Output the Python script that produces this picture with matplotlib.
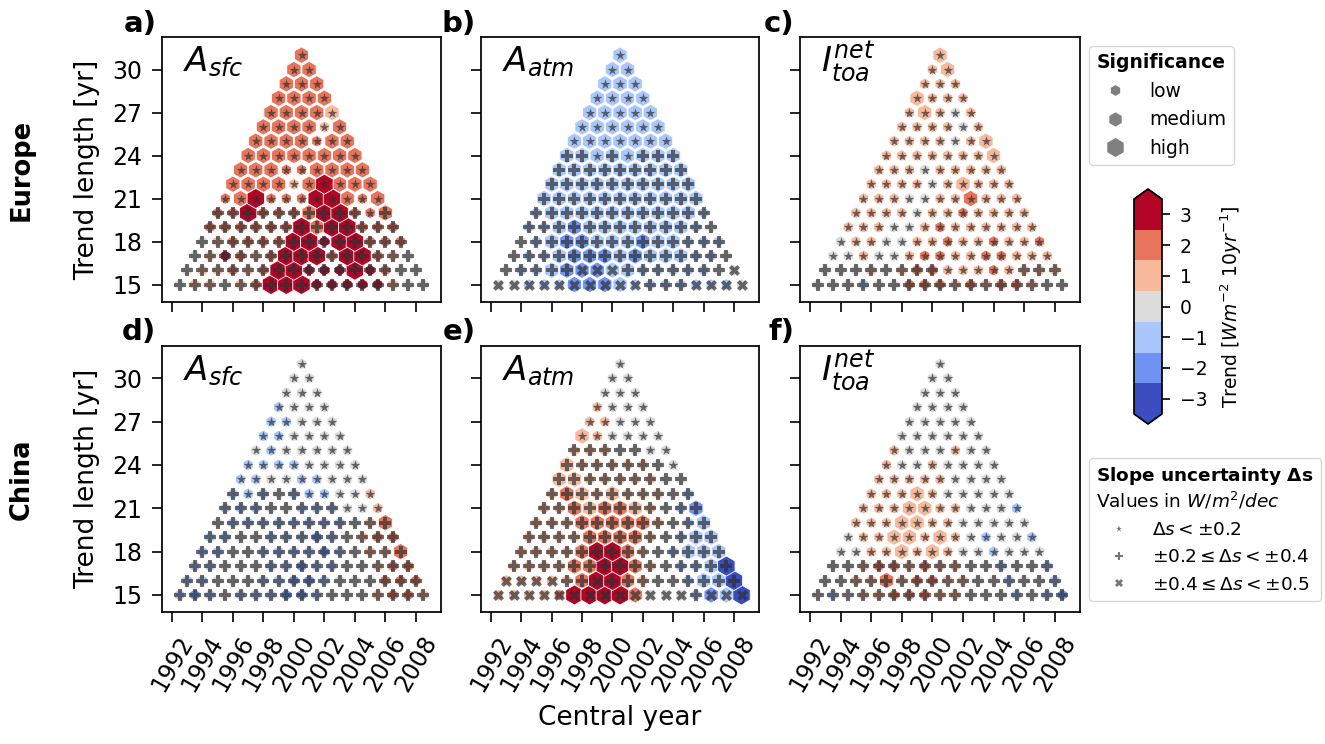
import numpy as np
import matplotlib
matplotlib.use("Agg")
import matplotlib.pyplot as plt
from matplotlib.colors import ListedColormap, BoundaryNorm
from matplotlib.cm import ScalarMappable
from matplotlib.lines import Line2D

plt.rcParams['font.family'] = ['DejaVu Sans']
plt.rcParams['mathtext.fontset'] = 'dejavusans'

# ---------------------------------------------------------------- data
START_YEAR = 1985
trend_lengths = list(range(15, 32))          # rows, bottom (15 yr) to top (31 yr)
year_ticks = list(range(1992, 2009, 2))
length_ticks = list(range(15, 31, 3))
trend_ticks = list(range(-3, 4))

# trend class per point: c=-3, b=-2, a=-1, 0, 1, 2, 3   (rows from 15 yr to 31 yr)
# significance: l=low, m=medium, h=high
# slope uncertainty: s=star (<0.2), +=plus (0.2-0.4), x=cross (0.4-0.5)

eu_asfc_trend = ["01101233333333100", "0112123333333200", "013212333233210", "01222233333222",
                 "2222223233222", "223222233222", "22322233222", "2222123222", "222222222",
                 "22222222", "2222222", "222212", "22221", "2222", "222", "22", "2"]
eu_asfc_sig = ["llllllhhhllllllll", "llllllhhlllhllll", "llllllhhhlhhlll", "llllllhhlhhlll",
               "llllllhmhhlll", "llhlllmhhllm", "lmhlllhhmlm", "mmmmlmhmmm", "mmmllmmmm",
               "mmmmmmmm", "mmmmlmm", "mmmmlm", "mmmmm", "mmmm", "mmm", "mm", "m"]
eu_asfc_unc = ["+++++++++++++++++", "++++++++++++++++", "+++++++++++++++", "++++++++++++++",
               "+++++++++++++", "++++++++++s+", "sssssssssss", "ssssssssss", "sssssssss",
               "ssssssss", "sssssss", "ssssss", "sssss", "ssss", "sss", "ss", "s"]

eu_aatm_trend = ["00aaabbbaaaaaaaa0", "0aaabbbaaaaaaa00", "0aaabbbabaaaaa0", "0aabbaaabaaaaa",
                 "aaabaaaaaaaa0", "aaaaaaaaaaaa", "aaaaaaaaaaa", "aaaaaaaaaa", "aaaaaaaaa",
                 "aaaaaaaa", "aaaaaaa", "aaaaaa", "aaaaa", "aaaa", "aaa", "aa", "a"]
eu_aatm_sig = ["lllllmmmmllllllll", "lllmmmmmmlllllll", "lllmmmmmmmmmlll", "llmmmmmmmmmlll",
               "llmmmmmmmmmll", "lmmmmmmmmmml", "mmmmmmmmmmm", "mmmmmmmmmm", "mmmmmmmmm",
               "mmmmmmmm", "mmmmmmm", "mmmmmm", "mmmmm", "mmmm", "mmm", "mm", "m"]
eu_aatm_unc = ["xxxxxxxxxx+++xxxx", "+++++xxx+++++++x", "+++++++++++++++", "++++++++++++++",
               "+++++++++++++", "++++++++++++", "+++++++++++", "++++++++++", "+++++++++",
               "++s+s+++", "sssssss", "ssssss", "sssss", "ssss", "sss", "ss", "s"]

eu_itoa_trend = ["000a0022212122100", "0001012211121111", "001001221122111", "01100112112112",
                 "1110012111111", "111101121111", "11100112111", "1111011111", "111011111",
                 "11111111", "1111011", "111101", "11101", "1111", "111", "11", "1"]
eu_itoa_sig = ["lllllllllllllllll", "llllllllllllllll", "lllllllllllllll", "llllllllllllll",
               "lllllllllllll", "llllllllllll", "lllllllmlll", "llllllmlll", "lllllllll",
               "lllllllm", "llllllm", "llllll", "lmlll", "mlll", "lll", "lm", "m"]
eu_itoa_unc = ["+++++++++++++++++", "++++++++sssss+++", "sssssssssssssss", "ssssssssssssss",
               "sssssssssssss", "ssssssssssss", "sssssssssss", "ssssssssss", "sssssssss",
               "ssssssss", "sssssss", "ssssss", "sssss", "ssss", "sss", "ss", "s"]

cn_asfc_trend = ["aba0aaabba0001221", "aa000aabba000222", "aa000aabaa00122", "aa00aaaaba0112",
                 "aa00aaaba0122", "0aaaaaaaa012", "aaa00aaa001", "aaa0aaa001", "aa00aa000",
                 "aaaa0000", "0a00000", "aa0000", "aa000", "a000", "000", "00", "0"]
cn_asfc_sig = ["lllllllllllllllll", "llllllllllllllll", "lllllllllllllll", "lllllllllllllm",
               "lllllllllllll", "lllllllllllm", "lllllllllll", "llllllllll", "lllllllll",
               "llllllll", "lllllll", "llllll", "lllll", "llll", "lll", "ll", "l"]
cn_asfc_unc = ["+++++++++++++++++", "++++++++++++++++", "+++++++++++++++", "++++++++++++++",
               "+++++++++++++", "++++++++++++", "++++++++sss", "+s+++sssss", "sssssssss",
               "ssssssss", "sssssss", "ssssss", "sssss", "ssss", "sss", "ss", "s"]

cn_aatm_trend = ["1111233332000abac", "111112332100aaac", "11112233210aaac", "1111233210aaaa",
                 "1111222210aaa", "1112222210aa", "112122110ab", "121111110a", "111111100",
                 "11111100", "1110000", "110000", "11000", "1000", "000", "00", "0"]
cn_aatm_sig = ["lllllhhhhmllllmmh", "lllllmhhmllllmmh", "llllmmhhmllllmh", "llllmhhmlllmmm",
               "llllmmmmlllmm", "lllmmmmmlllm", "llmmmmmlllm", "lmmlmlllll", "mmlllllll",
               "mlllllll", "lllllll", "mlllll", "lllll", "llll", "lll", "ll", "l"]
cn_aatm_unc = ["xxxxxxxxxxxxx+xxx", "xxxx++x+++++++++", "+++++++++++++++", "++++++++++++++",
               "+++++++++++++", "++++++++++++", "+++++++++++", "++++++++++", "+++++++++",
               "+++++++s", "+++++ss", "ssssss", "sssss", "ssss", "sss", "ss", "s"]

cn_itoa_trend = ["0a01122211000a0ab", "001121221100a00a", "00122121100a00a", "0011111100a000",
                 "011111110a00a", "111111100000", "1111111000a", "1111100000", "111110000",
                 "10010000", "1000100", "000000", "00000", "0000", "000", "00", "0"]
cn_itoa_sig = ["lllllllllllllllll", "llllmlllllllllll", "lllllllllllllll", "llllmlmlllllll",
               "lllmmlmllllll", "lllmmlllllll", "lllmmllllll", "lllmllllll", "lllllllll",
               "llllllll", "lllllll", "llllll", "lllll", "llll", "lll", "ll", "l"]
cn_itoa_unc = ["+++++++++++++++++", "++++++++++++++++", "+++++++++++++++", "ssssssssssssss",
               "sssssssssssss", "ssssssssssss", "sssssssssss", "ssssssssss", "sssssssss",
               "ssssssss", "sssssss", "ssssss", "sssss", "ssss", "sss", "ss", "s"]

panel_letters = ["a)", "b)", "c)", "d)", "e)", "f)"]
panel_titles = [r"$A_{sfc}$", r"$A_{atm}$", r"$I_{toa}^{net}$"] * 2
region_names = ["Europe", "China"]
sig_labels = ["low", "medium", "high"]
unc_labels = [r"$\Delta s < \pm0.2$", r"$\pm0.2 \leq \Delta s < \pm0.4$",
              r"$\pm0.4 \leq \Delta s < \pm0.5$"]

panels = [(eu_asfc_trend, eu_asfc_sig, eu_asfc_unc),
          (eu_aatm_trend, eu_aatm_sig, eu_aatm_unc),
          (eu_itoa_trend, eu_itoa_sig, eu_itoa_unc),
          (cn_asfc_trend, cn_asfc_sig, cn_asfc_unc),
          (cn_aatm_trend, cn_aatm_sig, cn_aatm_unc),
          (cn_itoa_trend, cn_itoa_sig, cn_itoa_unc)]

TREND_VALUE = {'c': -3, 'b': -2, 'a': -1, '0': 0, '1': 1, '2': 2, '3': 3}


def expand(trend_rows, sig_rows, unc_rows):
    xs, ys, tv, sg, uc = [], [], [], [], []
    for L, tr, sr, ur in zip(trend_lengths, trend_rows, sig_rows, unc_rows):
        for i, (t, s, u) in enumerate(zip(tr, sr, ur)):
            xs.append(START_YEAR + i + L / 2)
            ys.append(L)
            tv.append(TREND_VALUE[t])
            sg.append(s)
            uc.append(u)
    return np.array(xs), np.array(ys), np.array(tv), np.array(sg), np.array(uc)


# ---------------------------------------------------------------- style
cmap = ListedColormap(plt.cm.coolwarm(np.linspace(0, 1, 7)))
norm = BoundaryNorm(np.arange(-3.5, 4.0, 1.0), cmap.N)
HEX_SIZE = {'l': 70, 'm': 140, 'h': 210}
INNER = {'s': ('*', 55), '+': ('P', 64), 'x': ('X', 62)}
INNER_COLOR = '#303030'

W, H = 1325, 744
fig = plt.figure(figsize=(W / 100, H / 100), dpi=100)


def px_axes(left, top, right, bottom):
    return fig.add_axes([left / W, 1 - bottom / H, (right - left) / W, (bottom - top) / H])


cols_px = [(162, 441), (481, 759), (800, 1080)]
rows_px = [(37.3, 301.7), (345.7, 612.3)]

for k, (trend_rows, sig_rows, unc_rows) in enumerate(panels):
    r, c = divmod(k, 3)
    ax = px_axes(cols_px[c][0], rows_px[r][0], cols_px[c][1], rows_px[r][1])
    xs, ys, tv, sg, uc = expand(trend_rows, sig_rows, unc_rows)
    for key in ['l', 'm', 'h']:
        m = sg == key
        ax.scatter(xs[m], ys[m], c=tv[m], cmap=cmap, norm=norm, marker='h',
                   s=HEX_SIZE[key], edgecolors='white', linewidths=0.6, zorder=2)
    for key, (mk, sz) in INNER.items():
        m = uc == key
        ax.scatter(xs[m], ys[m], marker=mk, s=sz, color=INNER_COLOR, alpha=0.7,
                   linewidths=0, zorder=3)
    ax.set_xlim(1991.35, 2009.65)
    ax.set_ylim(13.8, 32.25)
    ax.set_xticks(year_ticks)
    ax.set_yticks(length_ticks)
    ax.tick_params(labelsize=17, length=7, width=1.2, pad=7)
    for sp in ax.spines.values():
        sp.set_linewidth(1.25)
    if r == 0:
        ax.tick_params(labelbottom=False)
    else:
        ax.set_xticklabels([str(y) for y in year_ticks], rotation=60)
    if c > 0:
        ax.tick_params(labelleft=False)
    else:
        ax.set_ylabel("Trend length [yr]", fontsize=19, labelpad=9)
    ax.text(0.075, 0.87, panel_titles[k], transform=ax.transAxes, fontsize=24.5,
            ha='left', va='baseline')
    ax.annotate(panel_letters[k], xy=(0, 1), xycoords='axes fraction',
                xytext=(-4, 4), textcoords='offset points', ha='right', va='baseline',
                fontsize=21, fontweight='bold')

for name, (top, bottom) in zip(region_names, rows_px):
    fig.text(22 / W, 1 - (top + bottom) / 2 / H, name, rotation=90, ha='center', va='center',
             fontsize=18.5, fontweight='bold')

fig.text(620 / W, 1 - 718 / H, "Central year", ha='center', va='center', fontsize=19)

# colorbar
cax = px_axes(1134, 189, 1162, 424)
sm = ScalarMappable(norm=norm, cmap=cmap)
cb = fig.colorbar(sm, cax=cax, extend='both', ticks=trend_ticks, extendfrac=0.047)
cb.minorticks_off()
cb.ax.tick_params(labelsize=13.5, length=6, width=1.2, pad=7)
cb.outline.set_linewidth(1.25)
cb.set_label(r"Trend [$W m^{-2}\ 10 yr^{-1}$]", fontsize=13.5, labelpad=8)

# legends
sig_handles = [Line2D([], [], ls='', marker='h', color='gray', markersize=ms)
               for ms in (6.6, 9.1, 12.5)]
leg1 = fig.legend(sig_handles, sig_labels, title="Significance",
                  title_fontproperties={'weight': 'bold', 'size': 13.5}, fontsize=13.5,
                  loc='upper left', bbox_to_anchor=(1089 / W, 1 - 46 / H), borderaxespad=0)

unc_handles = [Line2D([], [], ls='', marker=mk, color='#777777', markersize=ms, markeredgewidth=0)
               for mk, ms in (('*', 5.0), ('P', 6.0), ('X', 6.0))]
leg2 = fig.legend(unc_handles, unc_labels,
                  title=r"$\mathbf{Slope\ uncertainty\ \Delta s}$" + "\n" + r"Values in $W/m^2/dec$",
                  title_fontproperties={'size': 13.3}, fontsize=13.3,
                  loc='upper left', bbox_to_anchor=(1089 / W, 1 - 458 / H), borderaxespad=0)

fig.savefig("out.png", dpi=100)
